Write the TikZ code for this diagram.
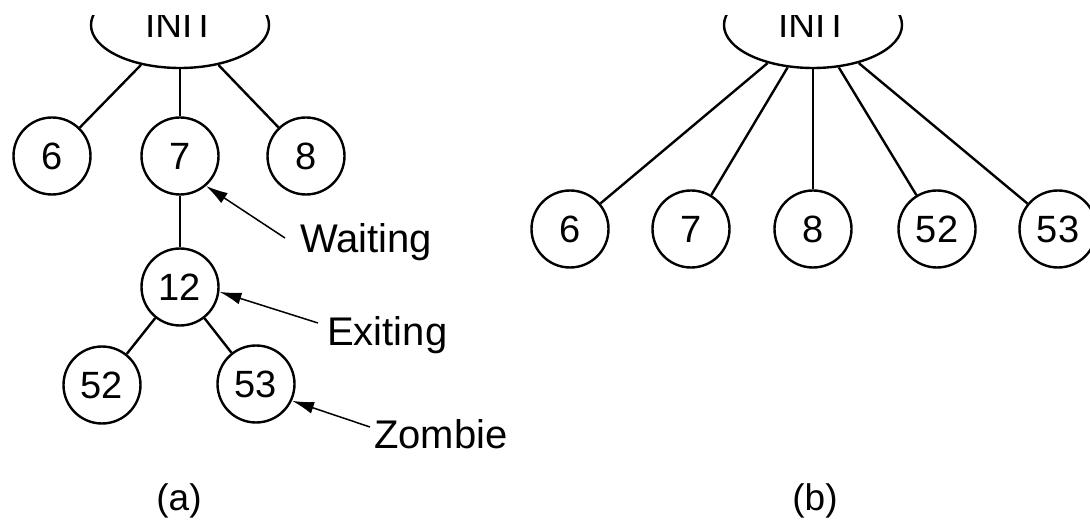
\documentclass[tikz,border=0pt]{standalone}
\usepackage{fontspec}
\setmainfont{Liberation Sans}
\usetikzlibrary{shapes.geometric,arrows.meta}
\begin{document}
\begin{tikzpicture}[x=1pt,y=-1pt,
  proc/.style={circle,draw,line width=2.4pt,minimum size=77pt,inner sep=0pt,
    font=\fontsize{38}{40}\selectfont},
  initnode/.style={ellipse,draw,line width=2.4pt,minimum width=178pt,minimum height=86pt,
    inner sep=0pt,font=\fontsize{37}{40}\selectfont},
  tree/.style={line width=2.4pt},
  lbl/.style={anchor=base west,inner sep=0pt,font=\fontsize{40}{44}\selectfont},
  figcaption/.style={anchor=base,inner sep=0pt,font=\fontsize{37}{40}\selectfont},
  pointer/.style={line width=1.5pt,-{Latex[length=22pt,width=12pt]}}]
\useasboundingbox (0,0) rectangle (1090,521);
\begin{scope}
\clip (0,16) rectangle (1090,521);
% (a)
\node[initnode] (ia) at (180,25) {INIT};
\node[proc] (a6) at (52,156) {6};
\node[proc] (a7) at (180,156) {7};
\node[proc] (a8) at (306,156) {8};
\node[proc] (a12) at (180,287) {12};
\node[proc] (a52) at (102,385) {52};
\node[proc] (a53) at (256,384) {53};
\draw[tree] (ia) -- (a6);
\draw[tree] (ia) -- (a7);
\draw[tree] (ia) -- (a8);
\draw[tree] (a7) -- (a12);
\draw[tree] (a12) -- (a52);
\draw[tree] (a12) -- (a53);
\node[lbl] (lw) at (300,253) {Waiting};
\node[lbl] (le) at (327,345) {Exiting};
\node[lbl] (lz) at (374,448) {Zombie};
\coordinate (tw) at (285,238);
\coordinate (te) at (318,323);
\coordinate (tz) at (370,427);
\draw[pointer] (tw) -- (a7.-49);
\draw[pointer] (te) -- (a12.-7);
\draw[pointer] (tz) -- (a53.-25);
\node[figcaption] (capa) at (179,510) {(a)};
% (b)
\node[initnode] (ib) at (813,25) {INIT};
\node[proc] (b6) at (570,229) {6};
\node[proc] (b7) at (691,229) {7};
\node[proc] (b8) at (813,229) {8};
\node[proc] (b52) at (937,229) {52};
\node[proc] (b53) at (1058,229) {53};
\draw[tree] (ib) -- (b6);
\draw[tree] (ib) -- (b7);
\draw[tree] (ib) -- (b8);
\draw[tree] (ib) -- (b52);
\draw[tree] (ib) -- (b53);
\node[figcaption] (capb) at (815,510) {(b)};
\end{scope}
\end{tikzpicture}
\end{document}
